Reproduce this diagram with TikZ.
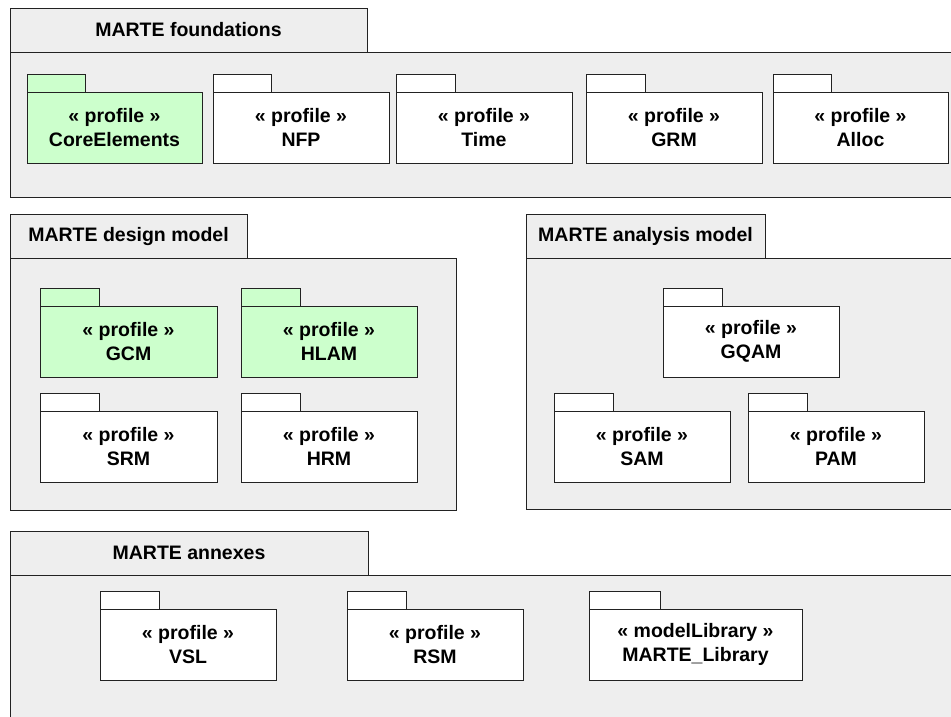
\documentclass[tikz,border=0pt]{standalone}
\usepackage{fontspec}
\setmainfont{Liberation Sans}
\definecolor{bggray}{HTML}{EEEEEE}
\definecolor{pkggreen}{HTML}{CCFFCC}
\definecolor{linec}{HTML}{222222}
\tikzset{
 every node/.style={inner sep=0pt, outer sep=0pt},
 lbl/.style={font=\fontsize{19.5}{23.5}\selectfont\bfseries},
 frame/.style={draw=linec, line width=0.9pt, fill=bggray, anchor=north west},
 frametab/.style={frame, lbl, anchor=south west, minimum height=44pt},
 pkgbody/.style={draw=linec, line width=0.9pt, fill=white, anchor=north west, align=center, lbl, minimum width=176pt, minimum height=71pt},
 pkgtab/.style={draw=linec, line width=0.9pt, fill=white, anchor=south west, minimum height=18pt, minimum width=59pt},
 greenpkg/.style={fill=pkggreen},
}
\begin{document}
\begin{tikzpicture}[x=1pt,y=-1pt]
\clip (0,0) rectangle (951,717);
\fill[white] (0,0) rectangle (951,717);
% ---------- MARTE foundations ----------
\node[frame, minimum width=960pt, minimum height=145pt] (fbody) at (10,52) {};
\node[frametab, minimum width=357pt] (ftab) at (fbody.north west) {MARTE foundations};
\node[pkgbody, greenpkg, minimum width=175pt] (core) at (27,92) {« profile »\\CoreElements};
\node[pkgtab, greenpkg, minimum width=58pt] (coretab) at (core.north west) {};
\node[pkgbody] (nfp) at (213,92) {« profile »\\NFP};
\node[pkgtab, minimum width=58pt] (nfptab) at (nfp.north west) {};
\node[pkgbody] (time) at (396,92) {« profile »\\Time};
\node[pkgtab] (timetab) at (time.north west) {};
\node[pkgbody] (grm) at (586,92) {« profile »\\GRM};
\node[pkgtab] (grmtab) at (grm.north west) {};
\node[pkgbody, minimum width=175pt] (alloc) at (773,92) {« profile »\\Alloc};
\node[pkgtab, minimum width=58pt] (alloctab) at (alloc.north west) {};
% ---------- MARTE design model ----------
\node[frame, minimum width=446pt, minimum height=252pt] (dbody) at (10,258) {};
\node[frametab, minimum width=237pt] (dtab) at (dbody.north west) {MARTE design model};
\node[pkgbody, greenpkg, minimum width=177pt] (gcm) at (40,306) {« profile »\\GCM};
\node[pkgtab, greenpkg] (gcmtab) at (gcm.north west) {};
\node[pkgbody, greenpkg] (hlam) at (241,306) {« profile »\\HLAM};
\node[pkgtab, greenpkg] (hlamtab) at (hlam.north west) {};
\node[pkgbody, minimum width=177pt] (srm) at (40,411) {« profile »\\SRM};
\node[pkgtab] (srmtab) at (srm.north west) {};
\node[pkgbody] (hrm) at (241,411) {« profile »\\HRM};
\node[pkgtab] (hrmtab) at (hrm.north west) {};
% ---------- MARTE analysis model ----------
\node[frame, minimum width=440pt, minimum height=251pt] (abody) at (526,258) {};
\node[frametab, minimum width=239pt] (atab) at (abody.north west) {MARTE analysis model};
\node[pkgbody] (gqam) at (663,306) {« profile »\\GQAM};
\node[pkgtab] (gqamtab) at (gqam.north west) {};
\node[pkgbody] (sam) at (554,411) {« profile »\\SAM};
\node[pkgtab] (samtab) at (sam.north west) {};
\node[pkgbody] (pam) at (748,411) {« profile »\\PAM};
\node[pkgtab] (pamtab) at (pam.north west) {};
% ---------- MARTE annexes ----------
\node[frame, minimum width=960pt, minimum height=160pt] (xbody) at (10,575) {};
\node[frametab, minimum width=358pt] (xtab) at (xbody.north west) {MARTE annexes};
\node[pkgbody] (vsl) at (100,609) {« profile »\\VSL};
\node[pkgtab] (vsltab) at (vsl.north west) {};
\node[pkgbody] (rsm) at (347,609) {« profile »\\RSM};
\node[pkgtab] (rsmtab) at (rsm.north west) {};
\node[pkgbody, minimum width=213pt] (lib) at (589,609) {« modelLibrary »\\MARTE\_Library};
\node[pkgtab, minimum width=71pt] (libtab) at (lib.north west) {};
\end{tikzpicture}
\end{document}
